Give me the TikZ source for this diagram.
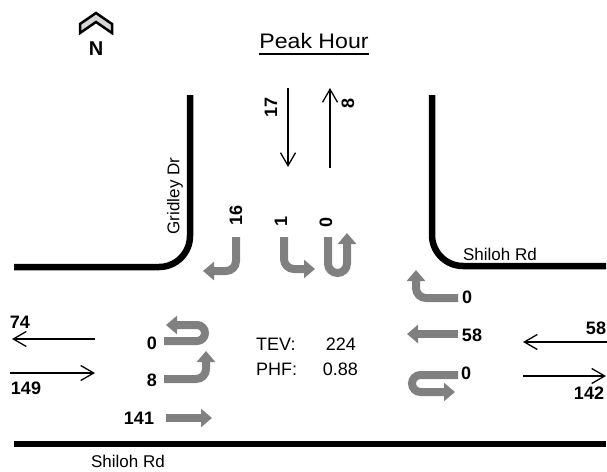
\documentclass[tikz,border=0pt]{standalone}
\usepackage{fontspec}
\setmainfont{Liberation Sans}
\usetikzlibrary{arrows.meta}
\definecolor{flowgray}{RGB}{128,128,128}
\definecolor{chevgray}{RGB}{215,215,215}
\begin{document}
\begin{tikzpicture}[x=1pt,y=-1pt,
  road/.style={line width=6.5pt},
  flow/.style={line width=1.3pt,-{Straight Barb[length=13pt,width=15pt]}},
  turn/.style={line width=8pt,flowgray,-{Triangle[length=11pt,width=18pt]}},
  num/.style={font=\fontsize{18}{20}\selectfont\bfseries,inner sep=0pt},
  lbl/.style={font=\fontsize{18}{20}\selectfont,inner sep=0pt},
  street/.style={font=\fontsize{17}{19}\selectfont,inner sep=0pt}]
\useasboundingbox (0,0) rectangle (607,471);
% roads
\draw[road,rounded corners=31] (14,267) -- (190,267) -- (190,95);
\draw[road,rounded corners=31] (432,95) -- (432,266) -- (606,266);
\draw[road] (14,444) -- (606,444);
% street names
\node[street] (sbot) at (128,461) {Shiloh Rd};
\node[street] (sright) at (500,254) {Shiloh Rd};
\node[street,rotate=90] (grid) at (175,196) {Gridley Dr};
% north arrow
\draw[line width=2.5pt,fill=chevgray,line join=miter] (80,24) -- (96,13) -- (112,24) -- (112,33) -- (96,22) -- (80,33) -- cycle;
\node[font=\fontsize{20}{22}\selectfont\bfseries,inner sep=0pt] (north) at (96,49) {N};
% title
\node[font=\fontsize{21}{24}\selectfont,inner sep=0pt,xscale=1.1] (peak) at (314,41) {Peak Hour};
\draw[line width=1.3pt] ([yshift=-5pt]peak.south west) -- ([yshift=-5pt]peak.south east);
% black flows
\coordinate (sbA) at (288,88); \coordinate (sbB) at (288,167);
\coordinate (nbA) at (330,168); \coordinate (nbB) at (330,88);
\coordinate (wlA) at (95,339); \coordinate (wlB) at (12,339);
\coordinate (elA) at (10,373); \coordinate (elB) at (95,373);
\coordinate (wrA) at (607,342); \coordinate (wrB) at (523,342);
\coordinate (erA) at (523,376); \coordinate (erB) at (606,376);
\draw[flow] (sbA) -- (sbB);
\draw[flow] (nbA) -- (nbB);
\draw[flow] (wlA) -- (wlB);
\draw[flow] (elA) -- (elB);
\draw[flow] (wrA) -- (wrB);
\draw[flow] (erA) -- (erB);
\node[num,rotate=90] (v17) at (271,107) {17};
\node[num,rotate=90] (v8) at (348,103) {8};
\node[num] (v74) at (20,322) {74};
\node[num] (v149) at (26,388) {149};
\node[num] (v58r) at (596,328) {58};
\node[num] (v142) at (589,393) {142};
% grey turning arrows, southbound
\draw[turn,rounded corners=10] (236,237) -- (236,271) -- (203,271);
\draw[turn,rounded corners=10] (284,237) -- (284,269) -- (315,269);
\draw[turn,rounded corners=9.5] (328,237) -- (328,273) -- (347,273) -- (347,233);
\node[num,rotate=90] (s16) at (236,215) {16};
\node[num,rotate=90] (s1) at (281,221) {1};
\node[num,rotate=90] (s0) at (326,222) {0};
% eastbound
\draw[turn,rounded corners=8] (164,341) -- (205,341) -- (205,325) -- (166,325);
\draw[turn,rounded corners=10] (164,379) -- (206,379) -- (206,351);
\draw[turn] (166,418) -- (212,418);
\node[num] (e0) at (152,343) {0};
\node[num] (e8) at (152,380) {8};
\node[num] (e141) at (139,418) {141};
% westbound
\draw[turn,rounded corners=10] (458,298) -- (416,298) -- (416,270);
\draw[turn] (458,334) -- (407,334);
\draw[turn,rounded corners=8.5] (458,375) -- (412,375) -- (412,392) -- (455,392);
\node[num] (w0a) at (467,297) {0};
\node[num] (w58) at (472,335) {58};
\node[num] (w0b) at (466,373) {0};
% centre text
\node[lbl,anchor=west] (tev) at (256,344) {TEV:};
\node[lbl,anchor=east] (tevv) at (356,344) {224};
\node[lbl,anchor=west] (phf) at (256,369) {PHF:};
\node[lbl,anchor=east] (phfv) at (358,369) {0.88};
\end{tikzpicture}
\end{document}
